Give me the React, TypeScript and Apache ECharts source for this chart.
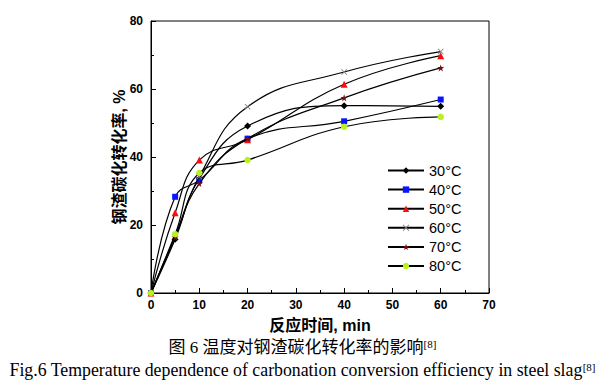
import React, { useEffect, useRef } from "react";
import * as echarts from "echarts";

const times = [0, 5, 10, 20, 40, 60];
const seriesNames = ["30°C", "40°C", "50°C", "60°C", "70°C", "80°C"];
const s30 = [0, 15.8, 33.6, 49.1, 55.1, 54.9];
const s40 = [0, 28.3, 33.2, 45.4, 50.5, 56.9];
const s50 = [0, 23.6, 39.1, 45.1, 61.4, 69.8];
const s60 = [0, 16.8, 34.2, 54.8, 65.0, 71.0];
const s70 = [0, 16.4, 32.2, 45.4, 57.4, 66.2];
const s80 = [0, 17.3, 35.3, 39.1, 48.9, 51.8];
const xTicks = [0, 10, 20, 30, 40, 50, 60, 70];
const yTicks = [0, 20, 40, 60, 80];

const CROSS = "path://M1,0L5,4L9,0L10,1L6,5L10,9L9,10L5,6L1,10L0,9L4,5L0,1Z";
const STAR = "path://M5,0L6.2,3.6L10,3.8L7,6.1L8.1,9.8L5,7.6L1.9,9.8L3,6.1L0,3.8L3.8,3.6Z";

const styles = [
  { symbol: "diamond", size: 7, color: "#000000" },
  { symbol: "rect", size: 6, color: "#0a14ff" },
  { symbol: "triangle", size: 7, color: "#ff0a0a" },
  { symbol: CROSS, size: 6, color: "#808080" },
  { symbol: STAR, size: 7, color: "#7a0c0c" },
  { symbol: "circle", size: 6.5, color: "#b8f020" },
];

export default function App() {
  const ref = useRef<HTMLDivElement>(null);
  useEffect(() => {
    if (!ref.current) return;
    const chart = echarts.init(ref.current, null, { renderer: "svg" });
    const all = [s30, s40, s50, s60, s70, s80];
    const series = all.map((vals, i) => ({
      name: seriesNames[i],
      type: "line",
      data: times.map((t, j) => [t, vals[j]]),
      smooth: 0.45,
      symbol: styles[i].symbol,
      symbolSize: styles[i].size,
      showAllSymbol: true,
      lineStyle: { color: "#000", width: 1.2 },
      itemStyle: { color: styles[i].color, borderWidth: 0 },
      z: 2 + i,
    }));
    const axisLabel = {
      color: "#000",
      fontWeight: "bold" as const,
      fontSize: 12,
      fontFamily: "Arial, Liberation Sans, sans-serif",
    };
    chart.setOption({
      animation: false,
      backgroundColor: "#fff",
      grid: {
        left: 151,
        top: 21,
        width: 338,
        height: 272,
        show: true,
        borderColor: "#000",
        borderWidth: 1,
        backgroundColor: "transparent",
      },
      legend: {
        orient: "vertical",
        left: 382,
        top: 158,
        itemWidth: 36,
        itemHeight: 8,
        itemGap: 4.1,
        itemTextGap: 4,
        lineStyle: { width: 2 },
        textStyle: {
          color: "#000",
          fontSize: 14.5,
          fontFamily: "Arial, Liberation Sans, sans-serif",
        },
        data: seriesNames,
      },
      xAxis: {
        type: "value",
        min: 0,
        max: 70,
        interval: 10,
        name: "反应时间, min",
        nameLocation: "middle",
        nameGap: 24,
        nameMoveOverlap: false,
        nameTextStyle: {
          color: "#000",
          fontWeight: "bold",
          fontSize: 16,
          fontFamily: "Arial, Noto Sans CJK SC, sans-serif",
          verticalAlign: "top",
        },
        axisLine: { lineStyle: { color: "#000", width: 1 } },
        axisTick: { inside: true, length: 5, lineStyle: { color: "#000" } },
        minorTick: { show: true, splitNumber: 2, length: 3, lineStyle: { color: "#000" } },
        splitLine: { show: false },
        axisLabel: {
          ...axisLabel,
          margin: 6,
          formatter: (v: number) => (xTicks.includes(v) ? String(v) : ""),
        },
      },
      yAxis: {
        type: "value",
        min: 0,
        max: 80,
        interval: 20,
        name: "钢渣碳化转化率, %",
        nameLocation: "middle",
        nameGap: 24,
        nameMoveOverlap: false,
        nameRotate: 90,
        nameTextStyle: {
          color: "#000",
          fontWeight: "bold",
          fontSize: 16,
          fontFamily: "Arial, Noto Sans CJK SC, sans-serif",
        },
        axisLine: { show: true, lineStyle: { color: "#000", width: 1 } },
        axisTick: { show: true, inside: true, length: 5, lineStyle: { color: "#000" } },
        minorTick: { show: true, splitNumber: 2, length: 3, lineStyle: { color: "#000" } },
        splitLine: { show: false },
        axisLabel: {
          ...axisLabel,
          margin: 8,
          formatter: (v: number) => (yTicks.includes(v) ? String(v) : ""),
        },
      },
      graphic: [
        {
          type: "text",
          left: "center",
          top: 338,
          style: {
            text: "图 6 温度对钢渣碳化转化率的影响{s|[8]}",
            fill: "#000",
            font: "17px 'Liberation Serif', 'Noto Sans CJK SC', serif",
            rich: {
              s: {
                fontSize: 11,
                fontFamily: "Liberation Serif, serif",
                padding: [0, 0, 7, 0],
              },
            },
          },
        },
        {
          type: "text",
          left: "center",
          top: 361,
          style: {
            text: "Fig.6 Temperature dependence of carbonation conversion efficiency in steel slag{s|[8]}",
            fill: "#000",
            font: "17.8px 'Liberation Serif', 'Times New Roman', serif",
            rich: {
              s: {
                fontSize: 11,
                fontFamily: "Liberation Serif, serif",
                padding: [0, 0, 7, 0],
              },
            },
          },
        },
      ],
      series,
    });
    return () => chart.dispose();
  }, []);
  return (
    <div
      ref={ref}
      style={{ position: "fixed", left: 0, top: 0, width: 605, height: 386 }}
    />
  );
}
